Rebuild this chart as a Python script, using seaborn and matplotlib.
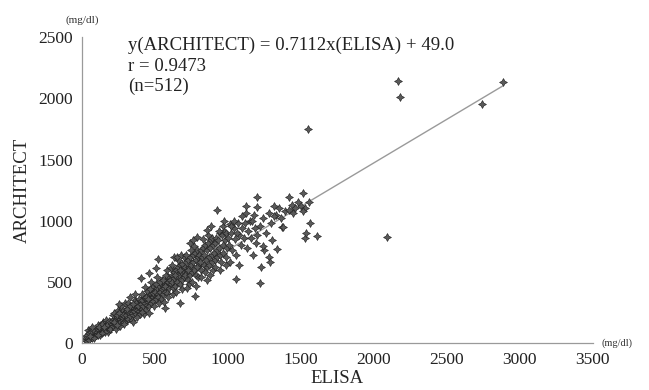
import matplotlib
matplotlib.use("Agg")
import matplotlib.pyplot as plt
import seaborn as sns
import numpy as np
import pandas as pd

# (ELISA, ARCHITECT) pairs in mg/dl
pairs = [
    (25, 30), (30, 45), (35, 20), (40, 55), (45, 38), (50, 60), (55, 42), (60, 75), (65, 50), (70, 68),
    (75, 90), (80, 58), (85, 80), (90, 100), (95, 70), (100, 85), (40, 110), (60, 120), (28, 60), (52, 28),
    (88, 62), (72, 40), (98, 115), (33, 70), (47, 85), (62, 95), (78, 110), (82, 45), (58, 55), (68, 130),
    (105, 95), (110, 120), (115, 80), (120, 105), (125, 140), (130, 90), (135, 115), (140, 130), (145, 100),
    (150, 150), (155, 120), (160, 105), (165, 135), (170, 160), (175, 125), (180, 140), (185, 110), (190, 170),
    (195, 150), (200, 130), (112, 150), (148, 170), (168, 190), (182, 95), (128, 70), (192, 120), (138, 160),
    (158, 90), (118, 130), (142, 85), (172, 145), (188, 185), (108, 65), (152, 135),
    (205, 160), (210, 180), (215, 140), (220, 200), (225, 165), (230, 150), (235, 190), (240, 210), (245, 175),
    (250, 160), (255, 225), (260, 195), (265, 170), (270, 215), (275, 240), (280, 190), (285, 205), (290, 250),
    (295, 220), (300, 180), (212, 230), (232, 120), (248, 270), (262, 140), (278, 280), (292, 170), (222, 250),
    (268, 300), (238, 230), (258, 250), (282, 230), (218, 175), (242, 145), (288, 160), (252, 320), (298, 330),
    (305, 230), (310, 260), (315, 200), (320, 285), (325, 245), (330, 220), (335, 270), (340, 300), (345, 250),
    (350, 230), (355, 290), (360, 265), (365, 320), (370, 240), (375, 300), (380, 275), (385, 340), (390, 260),
    (395, 310), (400, 290), (318, 330), (342, 190), (362, 350), (378, 210), (392, 360), (352, 175), (308, 280),
    (372, 330), (328, 300), (348, 320), (382, 300), (398, 240), (332, 380), (368, 400),
    (405, 320), (410, 280), (415, 350), (420, 300), (425, 375), (430, 330), (435, 270), (440, 360), (445, 310),
    (450, 390), (455, 340), (460, 300), (465, 410), (470, 360), (475, 330), (480, 420), (485, 380), (490, 345),
    (495, 440), (500, 390), (412, 400), (428, 240), (448, 430), (462, 250), (478, 460), (492, 300), (438, 380),
    (468, 440), (406, 530), (461, 576), (415, 257), (452, 360), (488, 410), (432, 460), (472, 500),
    (505, 420), (510, 360), (515, 450), (520, 400), (525, 380), (530, 470), (535, 420), (540, 360), (545, 480),
    (550, 440), (555, 400), (560, 500), (565, 450), (570, 420), (575, 520), (580, 470), (585, 410), (590, 540),
    (595, 490), (600, 450), (512, 480), (528, 330), (548, 520), (562, 340), (578, 560), (592, 380), (538, 500),
    (568, 470), (507, 612), (525, 686), (571, 290), (555, 520), (588, 500), (518, 540), (582, 600),
    (605, 520), (610, 480), (615, 560), (620, 500), (625, 450), (630, 580), (635, 530), (640, 470), (645, 600),
    (650, 540), (655, 500), (660, 620), (665, 560), (670, 480), (675, 640), (680, 580), (685, 520), (690, 650),
    (695, 600), (700, 540), (612, 610), (628, 400), (648, 420), (662, 680), (688, 440), (618, 640), (672, 600),
    (698, 700), (632, 702), (671, 330), (640, 560), (652, 700), (682, 720),
    (705, 620), (710, 560), (715, 660), (720, 600), (725, 520), (730, 680), (735, 620), (740, 560), (745, 700),
    (750, 640), (755, 580), (760, 720), (765, 660), (770, 600), (775, 740), (780, 680), (785, 560), (790, 760),
    (795, 700), (800, 640), (712, 720), (738, 480), (758, 500), (772, 790), (788, 620), (748, 760), (722, 450),
    (798, 540), (792, 866), (774, 385), (781, 466), (730, 600), (742, 820), (765, 840),
    (805, 720), (810, 660), (815, 760), (820, 600), (825, 700), (830, 780), (835, 640), (840, 720), (845, 800),
    (850, 680), (855, 620), (860, 760), (865, 820), (870, 700), (875, 640), (880, 780), (885, 840), (890, 720),
    (895, 660), (900, 800), (818, 540), (842, 580), (862, 880), (878, 560), (892, 860), (832, 850), (858, 520),
    (898, 600), (860, 926), (883, 956),
    (905, 740), (910, 820), (915, 680), (920, 860), (925, 760), (930, 700), (935, 840), (940, 780), (945, 900),
    (950, 720), (955, 660), (960, 880), (965, 800), (970, 740), (975, 920), (980, 840), (985, 700), (990, 900),
    (995, 780), (1000, 860), (912, 620), (948, 600), (968, 960), (988, 640), (938, 920), (978, 1000),
    (925, 1085), (1018, 975),
    (1010, 800), (1020, 900), (1030, 760), (1040, 940), (1050, 850), (1060, 720), (1070, 980), (1080, 880),
    (1090, 800), (1100, 940), (1015, 660), (1045, 1000), (1075, 640), (1095, 1040), (1025, 960), (1065, 900),
    (1055, 522),
    (1110, 860), (1120, 980), (1130, 780), (1140, 920), (1150, 1000), (1160, 860), (1170, 720), (1180, 1050),
    (1190, 940), (1200, 880), (1125, 1060), (1165, 1000), (1195, 820), (1123, 1117), (1203, 1112), (1203, 1194),
    (1220, 960), (1240, 1020), (1260, 900), (1280, 1060), (1300, 980), (1330, 1050), (1350, 1100), (1370, 950),
    (1390, 1080), (1250, 760), (1280, 700), (1320, 1120), (1219, 489), (1226, 625), (1290, 667), (1336, 768),
    (1301, 842), (1242, 795), (1381, 948), (1367, 1022), (1317, 1036),
    (1420, 1090), (1440, 1130), (1460, 1100), (1480, 1150), (1500, 1120), (1530, 1100), (1450, 1060),
    (1418, 1194), (1514, 1224), (1557, 1150), (1514, 1077), (1562, 981), (1614, 877), (1530, 858), (1539, 899),
    (1548, 1746), (2089, 869), (2164, 2139), (2178, 2008), (2740, 1951), (2884, 2131),
]
elisa = [p[0] for p in pairs]
architect = [p[1] for p in pairs]

slope = 0.7112
intercept = 49.0

sns.set_style("white")
plt.rcParams['font.family'] = ['Liberation Serif', 'DejaVu Serif']

df = pd.DataFrame({'ELISA': elisa, 'ARCHITECT': architect})

fig = plt.figure(figsize=(6.49, 3.9), dpi=100)
ax = fig.add_axes([0.126, 0.12, 0.787, 0.785])

line_x = np.array([min(elisa), max(elisa)])
ax.plot(line_x, slope * line_x + intercept, color='#9a9a9a', lw=1.0, zorder=1)

sns.scatterplot(data=df, x='ELISA', y='ARCHITECT', ax=ax, marker=(4, 1, 0), s=32,
                color='#5a5a5a', edgecolor='#222222', linewidth=0.45, zorder=2)

ax.set_xlim(0, 3500)
ax.set_ylim(0, 2500)
ax.set_xticks(np.arange(0, 3501, 500))
ax.set_yticks(np.arange(0, 2501, 500))
for side in ['top', 'right']:
    ax.spines[side].set_visible(False)
for side in ['left', 'bottom']:
    ax.spines[side].set_color('#9a9a9a')
    ax.spines[side].set_linewidth(0.9)
ax.tick_params(axis='both', labelsize=12.5, length=3, width=0.8, colors='#222222')
ax.tick_params(axis='both', color='#9a9a9a')
ax.set_xlabel('ELISA', fontsize=13.5, labelpad=1)
ax.set_ylabel('ARCHITECT', fontsize=13.5, labelpad=5)

ax.text(0.09, 1.0, 'y(ARCHITECT) = 0.7112x(ELISA) + 49.0\nr = 0.9473\n(n=512)',
        transform=ax.transAxes, fontsize=13.5, va='top', ha='left', linespacing=1.25, color='#222222')
fig.text(82 / 649, 1 - 20 / 390, '(mg/dl)', fontsize=8, ha='center', va='center', color='#333333')
fig.text(617 / 649, 1 - 343 / 390, '(mg/dl)', fontsize=7.5, ha='center', va='center', color='#333333')

fig.savefig('out.png', dpi=100)
